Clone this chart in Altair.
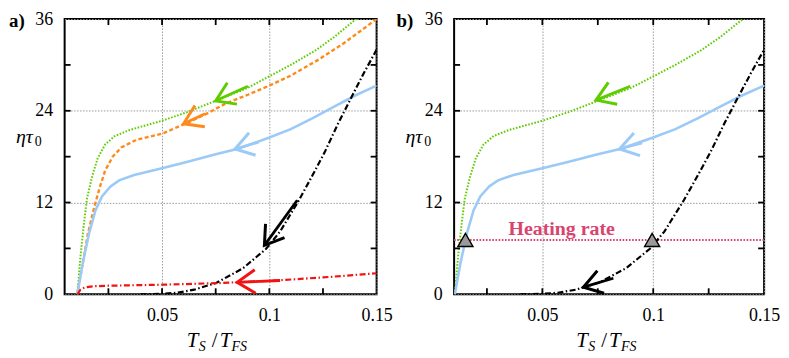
import math
import altair as alt
import pandas as pd

# ---------------- data ----------------
green_x = [0.0105, 0.012, 0.0135, 0.015, 0.0175, 0.02, 0.0235, 0.028, 0.035, 0.05, 0.0615, 0.075, 0.09, 0.1, 0.11, 0.1215, 0.13, 0.14, 0.1425]
green_y = [0.0, 5.0, 9.0, 12.5, 15.5, 17.8, 19.6, 20.7, 21.5, 22.7, 23.8, 25.3, 27.0, 28.5, 30.0, 31.9, 33.6, 35.9, 36.4]

orange_x = [0.0105, 0.013, 0.0155, 0.0185, 0.021, 0.0235, 0.027, 0.031, 0.038, 0.05, 0.0615, 0.07, 0.08, 0.09, 0.1, 0.11, 0.123, 0.135, 0.15]
orange_y = [0.0, 4.0, 8.0, 11.5, 14.0, 16.2, 18.0, 19.2, 20.2, 21.0, 22.4, 23.5, 25.0, 26.1, 27.3, 28.6, 30.7, 32.9, 36.0]

blue_x = [0.0105, 0.013, 0.016, 0.019, 0.022, 0.026, 0.03, 0.037, 0.05, 0.0615, 0.075, 0.085, 0.1, 0.11, 0.12, 0.13, 0.14, 0.15]
blue_y = [0.0, 4.0, 8.0, 11.0, 12.8, 14.1, 14.9, 15.6, 16.5, 17.3, 18.3, 19.0, 20.5, 21.6, 23.0, 24.5, 26.0, 27.3]

black_x = [0.04, 0.05, 0.057, 0.065, 0.0754, 0.0877, 0.0985, 0.105, 0.1138, 0.12, 0.126, 0.132, 0.1385, 0.144, 0.15]
black_y = [0.0, 0.05, 0.2, 0.6, 1.5, 3.4, 5.95, 8.2, 12.3, 15.5, 18.7, 22.3, 25.9, 28.9, 32.0]

red_x = [0.0105, 0.012, 0.014, 0.018, 0.025, 0.05, 0.075, 0.1, 0.125, 0.15]
red_y = [0.0, 0.6, 0.9, 1.05, 1.12, 1.25, 1.45, 1.75, 2.2, 2.75]

# arrows: (series, tail x, tail y, head x, head y)
arrows_a = [
    ("green", 0.09, 27.2, 0.075, 25.3),
    ("orange", 0.07, 23.6, 0.06, 22.3),
    ("blue", 0.095, 19.9, 0.084, 19.0),
    ("black", 0.113, 12.3, 0.0977, 6.4),
    ("red", 0.105, 1.8, 0.085, 1.57),
]
arrows_b = [
    ("green", 0.0896, 27.2, 0.0742, 25.4),
    ("blue", 0.095, 19.8, 0.0848, 19.0),
    ("black", 0.082, 2.1, 0.0685, 0.93),
]

heating_rate = 7.1
crossing_x = [0.0153, 0.0995]

x_labels = [0.05, 0.1, 0.15]
y_labels = [0, 12, 24, 36]
x_ticks = [0.025, 0.05, 0.075, 0.1, 0.125]
y_ticks = [6, 12, 18, 24, 30]

# ---------------- styles ----------------
SERIF = "'Liberation Serif', 'Times New Roman', 'DejaVu Serif', serif"
H = 277
COLORS = {"green": "#5fcc00", "orange": "#ff8a1c", "blue": "#9ccaf6", "black": "#000000", "red": "#f01414"}
STYLE = {
    "green": dict(strokeWidth=2, strokeDash=[1.6, 1.6]),
    "orange": dict(strokeWidth=2.4, strokeDash=[4, 2.5]),
    "blue": dict(strokeWidth=2.6),
    "black": dict(strokeWidth=2.2, strokeDash=[6, 2.5, 1.5, 2.5]),
    "red": dict(strokeWidth=2.2, strokeDash=[6, 2.5, 1.5, 2.5]),
}
SERIES = {
    "green": (green_x, green_y),
    "orange": (orange_x, orange_y),
    "blue": (blue_x, blue_y),
    "black": (black_x, black_y),
    "red": (red_x, red_y),
}
ARROW_PATH = "M2,-1.3L0,0L2,1.3"


def one_row():
    return alt.Chart(alt.Data(values=[{"k": 1}]))


def label(txt, x, y, size=20, style="italic", weight="normal", color="black", align="left"):
    return one_row().mark_text(
        text=txt, font=SERIF, fontSize=size, fontStyle=style, fontWeight=weight,
        color=color, align=align, baseline="alphabetic"
    ).encode(x=alt.value(x), y=alt.value(y))


def panel(xmin, W, names, arrows, tag, heating=False):
    xs = alt.Scale(domain=[xmin, 0.15], nice=False, zero=False)
    ys = alt.Scale(domain=[0, 36], nice=False, zero=False)
    xax = alt.Axis(values=x_labels, title=None, labelExpr="format(datum.value, '.2~f')", ticks=False, domain=False,
                   labelFlush=False, labelOverlap=False, labelPadding=12)
    yax = alt.Axis(values=y_labels, title=None, ticks=False, domain=False,
                   labelFlush=False, labelOverlap=False, labelPadding=12)
    X = lambda f="x": alt.X(f"{f}:Q", scale=xs, axis=xax)
    Y = lambda f="y": alt.Y(f"{f}:Q", scale=ys, axis=yax)

    layers = []
    layers.append(alt.Chart(pd.DataFrame({"x": [0.1], "y": [12]})).mark_point(opacity=0).encode(x=X(), y=Y()))

    if heating:
        layers.append(alt.Chart(pd.DataFrame({"y": [heating_rate]})).mark_rule(
            color="#d8446f", strokeWidth=2, strokeDash=[1.6, 1.6]).encode(y=Y()))

    for n in names:
        xv, yv = SERIES[n]
        df = pd.DataFrame({"x": xv, "y": yv, "o": range(len(xv))})
        layers.append(alt.Chart(df).mark_line(color=COLORS[n], clip=True, **STYLE[n]).encode(
            x=X(), y=Y(), order="o:Q"))

    px = W / (0.15 - xmin)
    py = H / 36.0
    rows = []
    for n, tx, ty, hx, hy in arrows:
        dx = (hx - tx) * px
        dy = -(hy - ty) * py
        ang = math.degrees(math.atan2(-dy, -dx)) % 360
        rows.append({"s": n, "x": tx, "y": ty, "x2": hx, "y2": hy, "ang": ang})
    adf = pd.DataFrame(rows)
    cscale = alt.Scale(domain=list(COLORS.keys()), range=list(COLORS.values()))
    layers.append(alt.Chart(adf).mark_rule(strokeWidth=2.8, clip=True).encode(
        x=X(), y=Y(), x2="x2:Q", y2="y2:Q", color=alt.Color("s:N", scale=cscale, legend=None)))
    layers.append(alt.Chart(adf).mark_point(shape=ARROW_PATH, filled=False, size=330, strokeWidth=3,
                                            opacity=1, strokeJoin="miter").encode(
        x=X("x2"), y=Y("y2"), angle=alt.Angle("ang:Q", scale=None),
        color=alt.Color("s:N", scale=cscale, legend=None)))

    if heating:
        layers.append(alt.Chart(pd.DataFrame({"x": crossing_x, "y": [heating_rate] * 2})).mark_point(
            shape="triangle-up", filled=True, fill="#9a9a9a", stroke="black", strokeWidth=1.4,
            size=230, opacity=1).encode(x=X(), y=Y()))
        layers.append(alt.Chart(pd.DataFrame({"x": [0.0587], "y": [7.75], "t": ["Heating rate"]})).mark_text(
            font=SERIF, fontSize=20, fontWeight="bold", color="#d8446f", baseline="alphabetic").encode(
            x=X(), y=Y(), text="t:N"))

    tx_df = pd.DataFrame({"x": x_ticks})
    ty_df = pd.DataFrame({"y": y_ticks})
    tk = dict(color="black", strokeWidth=1.8)
    layers.append(alt.Chart(tx_df).mark_rule(**tk).encode(x=X(), y=alt.value(H), y2=alt.value(H - 6)))
    layers.append(alt.Chart(tx_df).mark_rule(**tk).encode(x=X(), y=alt.value(0), y2=alt.value(6)))
    layers.append(alt.Chart(ty_df).mark_rule(**tk).encode(y=Y(), x=alt.value(0), x2=alt.value(6)))
    layers.append(alt.Chart(ty_df).mark_rule(**tk).encode(y=Y(), x=alt.value(W), x2=alt.value(W - 6)))

    layers.append(label(tag, -56 if tag == "a)" else -58, 8, size=19, style="normal", weight="bold"))
    layers.append(label("ητ", -49, 125, size=20))
    layers.append(label("0", -30, 128, size=14, style="normal"))
    layers.append(label("T", 123, H + 53, size=21))
    layers.append(label("S", 135, H + 57, size=14))
    layers.append(label("/", 148, H + 53, size=21, style="normal"))
    layers.append(label("T", 156, H + 53, size=21))
    layers.append(label("FS", 168, H + 57, size=14))

    return alt.layer(*layers).properties(width=W, height=H)


left = panel(0.0046, 314, ["green", "orange", "blue", "black", "red"], arrows_a, "a)")
right = panel(0.0102, 312, ["green", "blue", "black"], arrows_b, "b)", heating=True)

chart = alt.hconcat(left, right, spacing=78, bounds="flush").configure_view(
    stroke="black", strokeWidth=2
).configure_axis(
    labelFont=SERIF, labelFontSize=18, labelColor="black",
    grid=True, gridColor="#9a9a9a", gridDash=[1.5, 1.5], gridWidth=1
).properties(padding=0)

chart.save("out.html", embed_options={"renderer": "svg", "actions": False})
